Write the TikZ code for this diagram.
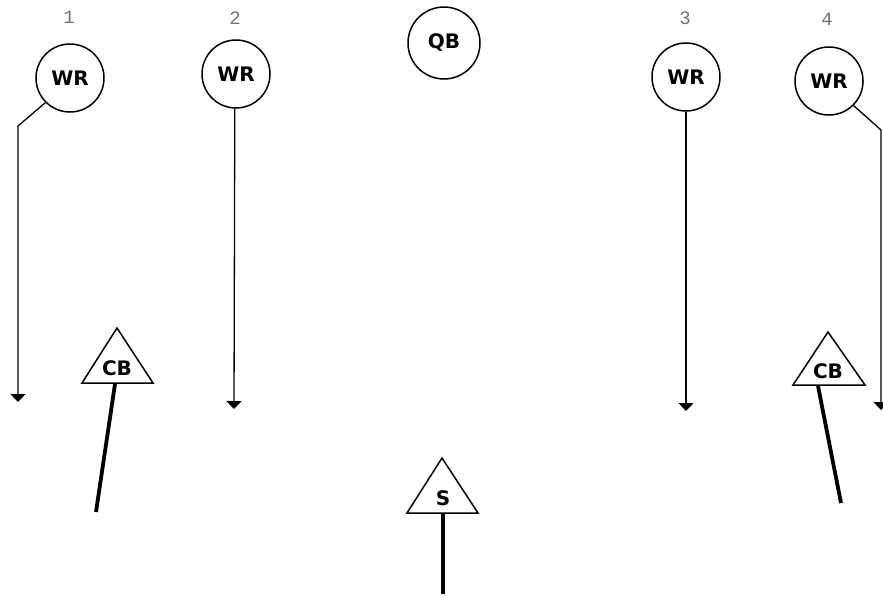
\documentclass[tikz,border=0pt]{standalone}
\usepackage{fontspec}
\newfontfamily\posfont{DejaVu Sans}
\newfontfamily\numfont{Liberation Mono}
\usetikzlibrary{arrows.meta}
\begin{document}
\begin{tikzpicture}[x=1pt,y=-1pt,
  player/.style={draw, circle, line width=1.5pt, minimum size=68pt, inner sep=0pt,
    font=\posfont\bfseries\fontsize{20}{20}\selectfont},
  deftext/.style={inner sep=0pt, font=\posfont\bfseries\fontsize{20}{20}\selectfont},
  tri/.style={draw, line width=1.5pt, line join=miter},
  route/.style={line width=1.3pt, -{Triangle[width=15pt,length=8pt]}},
  cover/.style={line width=3.8pt},
  num/.style={text=black!55, font=\numfont\fontsize{19}{19}\selectfont}]
\useasboundingbox (0,0) rectangle (883,595);

% receiver numbers
\node[num] (n1) at (69,17) {1};
\node[num] (n2) at (235,18) {2};
\node[num] (n3) at (685,18) {3};
\node[num] (n4) at (827,19) {4};

% offence
\node[player, minimum size=72pt] (qb) at (444,43) {QB};
\node[player] (wr1) at (70,78)  {WR};
\node[player] (wr2) at (236,74) {WR};
\node[player] (wr3) at (686,77) {WR};
\node[player] (wr4) at (829,81) {WR};

% route end points
\coordinate (r1a) at (18,126);
\coordinate (r1b) at (18,402);
\coordinate (r2b) at (234,409);
\coordinate (r3b) at (686,411);
\coordinate (r4a) at (881,130);
\coordinate (r4b) at (881,410);

\draw[route] (wr1.-135) -- (r1a) -- (r1b);
\draw[route] (wr2.-92) -- (r2b);
\draw[route] (wr3.south) -- (r3b);
\draw[route] (wr4.-45) -- (r4a) -- (r4b);

% defence: triangles with their labels
\draw[tri] (117,328) -- (153,383) -- (82,383) -- cycle;
\node[deftext] (cb1) at (117,368) {CB};
\draw[tri] (828,332) -- (865,385) -- (793,385) -- cycle;
\node[deftext] (cb2) at (828,371) {CB};
\draw[tri] (442,458) -- (478,513) -- (407,513) -- cycle;
\node[deftext] (s) at (443,498) {S};

% defenders' coverage lines
\coordinate (cb1a) at (115,384);
\coordinate (cb1e) at (96,512);
\coordinate (cb2a) at (818,386);
\coordinate (cb2e) at (841,503);
\coordinate (sa) at (443,514);
\coordinate (se) at (443,594);
\draw[cover] (cb1a) -- (cb1e);
\draw[cover] (cb2a) -- (cb2e);
\draw[cover] (sa) -- (se);
\end{tikzpicture}
\end{document}
